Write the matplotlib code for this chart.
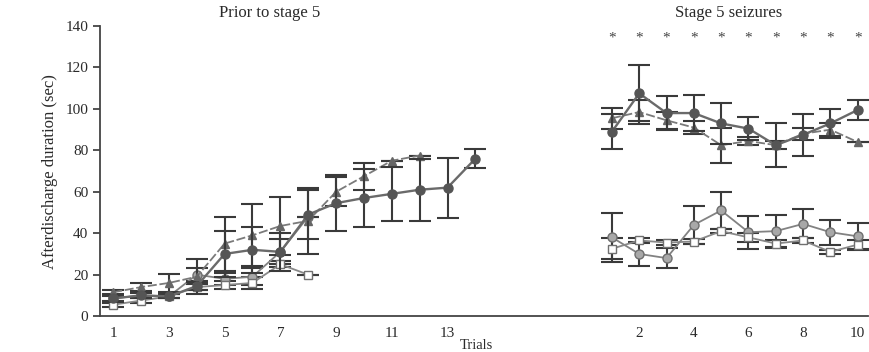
import numpy as np
import matplotlib
matplotlib.use("Agg")
import matplotlib.pyplot as plt

plt.rcParams["font.family"] = ["Liberation Serif", "DejaVu Serif"]

# ---- Prior to stage 5 (trials 1..14) ----
pre_trials = np.arange(1, 15)
pre_dark = [8.5, 10, 9.5, 14.5, 30, 32, 31, 49, 54.5, 57, 59, 61, 62, 76]
pre_dark_err = [1.5, 1.5, 1, 2, 11, 11, 9, 12, 13.5, 14, 13, 15, 14.5, 4.5]
pre_tri = [11.5, 14, 16, 19, 35, 39, 43.5, 46, 60, 67.5, 75, 77.5]
pre_tri_err = [1, 2, 4.5, 8.5, 13, 15, 14, 16, 7, 6.5, 0, 0]
pre_light = [8.5, 10, 9.5, 20, 18, 19, 31, 48]
pre_light_err = [1, 1, 1, 3, 3, 4, 6, 0]
pre_sq = [5.5, 7.5, 9.5, 14, 15, 16, 25, 20]
pre_sq_err = [1, 1, 1, 1.5, 2, 3, 1.5, 0]

# ---- Stage 5 seizures (trials 1..10) ----
s5_trials = np.arange(1, 11)
s5_dark = [89, 107.5, 98, 98, 93, 90.5, 82.5, 87.5, 93, 99.5]
s5_dark_err = [8.5, 13.5, 8, 8.5, 10, 5.5, 10.5, 10, 7, 5]
s5_tri = [95.5, 98.5, 94.5, 91, 82.5, 84.5, 82.5, 88, 90, 84]
s5_tri_err = [5, 6, 4, 3, 8.5, 2, 2, 3, 3, 0]
s5_light = [38, 30, 28, 44, 51, 40.5, 41, 44.5, 40.5, 38.5]
s5_light_err = [12, 6, 5, 9, 9, 8, 8, 7, 6, 6.5]
s5_sq = [32.5, 36.5, 35.5, 36, 41, 38, 35, 36.5, 31, 34.5]
s5_sq_err = [5, 1, 1, 1, 1, 2, 1.5, 1, 1, 2]

pre_ticks = [1, 3, 5, 7, 9, 11, 13]
s5_ticks = [2, 4, 6, 8, 10]
star_level = 134

# stage-5 trials are drawn to the right of the pre-stage block on one axis
S5_START, S5_STEP = 18.9, 0.98


def s5_pos(t):
    return S5_START + S5_STEP * (np.asarray(t) - 1)


fig = plt.figure(figsize=(8.70, 3.52), dpi=100)
ax = fig.add_axes([0.115, 0.102, 0.883, 0.824])

err_kw = dict(ecolor="#3a3a3a", elinewidth=1.5, capsize=8, capthick=1.5)

styles = {
    "dark": dict(marker="o", ms=6.5, mfc="#555555", mec="#555555", color="#6a6a6a",
                 lw=1.7, ls="-", zorder=5),
    "tri": dict(marker="^", ms=6, mfc="#666666", mec="#666666", color="#7a7a7a",
                lw=1.3, ls=(0, (5, 1.5)), zorder=4),
    "light": dict(marker="o", ms=6.5, mfc="#a8a8a8", mec="#6e6e6e", color="#828282",
                  lw=1.3, ls="-", zorder=3),
    "sq": dict(marker="s", ms=6, mfc="white", mec="#707070", color="#888888",
               lw=1.3, ls="-", zorder=3),
}


def draw(x, y, e, key):
    ax.errorbar(x, y, yerr=e, **err_kw, **styles[key])


draw(pre_trials[:len(pre_dark)], pre_dark, pre_dark_err, "dark")
draw(pre_trials[:len(pre_tri)], pre_tri, pre_tri_err, "tri")
draw(pre_trials[:len(pre_light)], pre_light, pre_light_err, "light")
draw(pre_trials[:len(pre_sq)], pre_sq, pre_sq_err, "sq")

xs = s5_pos(s5_trials)
draw(xs, s5_dark, s5_dark_err, "dark")
draw(xs, s5_tri, s5_tri_err, "tri")
draw(xs, s5_light, s5_light_err, "light")
draw(xs, s5_sq, s5_sq_err, "sq")

# significance markers over every stage-5 trial
for x in xs:
    ax.text(x, star_level, "*", ha="center", va="center", fontsize=11, color="#444444")

ax.set_xlim(0.53, 28.1)
ax.set_ylim(0, 140)
ax.set_yticks(np.arange(0, 141, 20))
ax.set_xticks(list(pre_ticks) + list(s5_pos(s5_ticks)))
ax.set_xticklabels([str(t) for t in pre_ticks] + [str(t) for t in s5_ticks])

for side in ("top", "right"):
    ax.spines[side].set_visible(False)
for side in ("left", "bottom"):
    ax.spines[side].set_color("#444444")
    ax.spines[side].set_linewidth(1.3)
ax.tick_params(axis="y", direction="out", length=5, width=1.3, color="#444444",
               labelsize=11, labelcolor="#2a2a2a")
ax.tick_params(axis="x", length=0, pad=8, labelsize=11, labelcolor="#2a2a2a")

ax.set_ylabel("Afterdischarge duration (sec)", fontsize=12, color="#2a2a2a", labelpad=5)
fig.text(0.548, 0.0, "Trials", ha="center", va="bottom", fontsize=10.5, color="#2a2a2a")

fig.text(0.31, 0.94, "Prior to stage 5", ha="center", va="bottom", fontsize=12,
         color="#2a2a2a")
fig.text(0.837, 0.94, "Stage 5 seizures", ha="center", va="bottom", fontsize=12,
         color="#2a2a2a")

fig.savefig("out.png", dpi=100)
